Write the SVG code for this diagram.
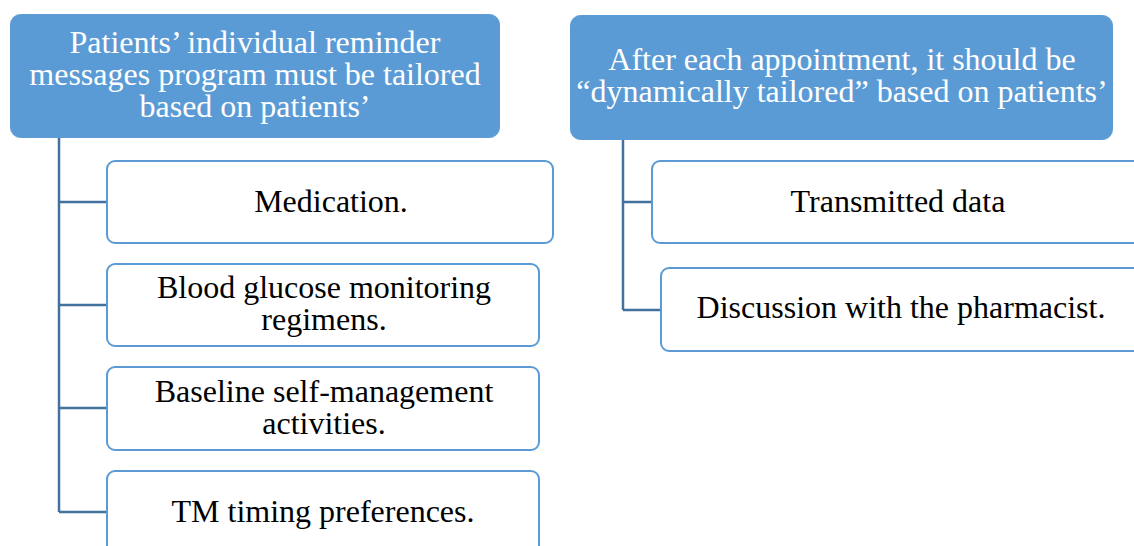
<svg xmlns="http://www.w3.org/2000/svg" width="1134" height="546" viewBox="0 0 1134 546">
  <style>
    .head { fill: #5B9BD5; stroke: #5B9BD5; stroke-width: 1; }
    .item { fill: #FFFFFF; stroke: #5B9BD5; stroke-width: 2; }
    .htxt { font-family: "Liberation Serif", "Times New Roman", serif; font-size: 32px; fill: #FFFFFF; text-anchor: middle; }
    .itxt { font-family: "Liberation Serif", "Times New Roman", serif; font-size: 32px; fill: #000000; text-anchor: middle; }
    .conn { fill: none; stroke: #41719C; stroke-width: 2.5; }
  </style>
  <rect width="1134" height="546" fill="#FFFFFF"/>

  <!-- connectors -->
  <g id="connectors">
    <path class="conn" d="M59 138 V512 M59 202 H107 M59 305 H107 M59 408 H107 M59 512 H107"/>
    <path class="conn" d="M623 140 V310 M623 202 H652 M623 310 H661"/>
  </g>

  <!-- left branch -->
  <g id="head-left">
    <rect class="head" x="10.5" y="14.5" width="489" height="123" rx="10"/>
    <text class="htxt" x="255" y="53">Patients’ individual reminder</text>
    <text class="htxt" x="255" y="85">messages program must be tailored</text>
    <text class="htxt" x="255" y="117">based on patients’</text>
  </g>
  <g id="item-medication">
    <rect class="item" x="107" y="161" width="446" height="82" rx="8"/>
    <text class="itxt" x="331" y="212">Medication.</text>
  </g>
  <g id="item-glucose">
    <rect class="item" x="107" y="264" width="432" height="82" rx="8"/>
    <text class="itxt" x="324" y="298">Blood glucose monitoring</text>
    <text class="itxt" x="324" y="330">regimens.</text>
  </g>
  <g id="item-baseline">
    <rect class="item" x="107" y="367" width="432" height="83" rx="8"/>
    <text class="itxt" x="324" y="402">Baseline self-management</text>
    <text class="itxt" x="324" y="434">activities.</text>
  </g>
  <g id="item-timing">
    <rect class="item" x="107" y="471" width="432" height="100" rx="8"/>
    <text class="itxt" x="323" y="522">TM timing preferences.</text>
  </g>

  <!-- right branch -->
  <g id="head-right">
    <rect class="head" x="570.5" y="15.5" width="542" height="124" rx="10"/>
    <text class="htxt" x="842" y="70">After each appointment, it should be</text>
    <text class="htxt" x="842" y="102">“dynamically tailored” based on patients’</text>
  </g>
  <g id="item-transmitted">
    <rect class="item" x="652" y="161" width="494" height="82" rx="8"/>
    <text class="itxt" x="898" y="212">Transmitted data</text>
  </g>
  <g id="item-discussion">
    <rect class="item" x="661" y="268" width="494" height="83" rx="8"/>
    <text class="itxt" x="901" y="318">Discussion with the pharmacist.</text>
  </g>
</svg>
